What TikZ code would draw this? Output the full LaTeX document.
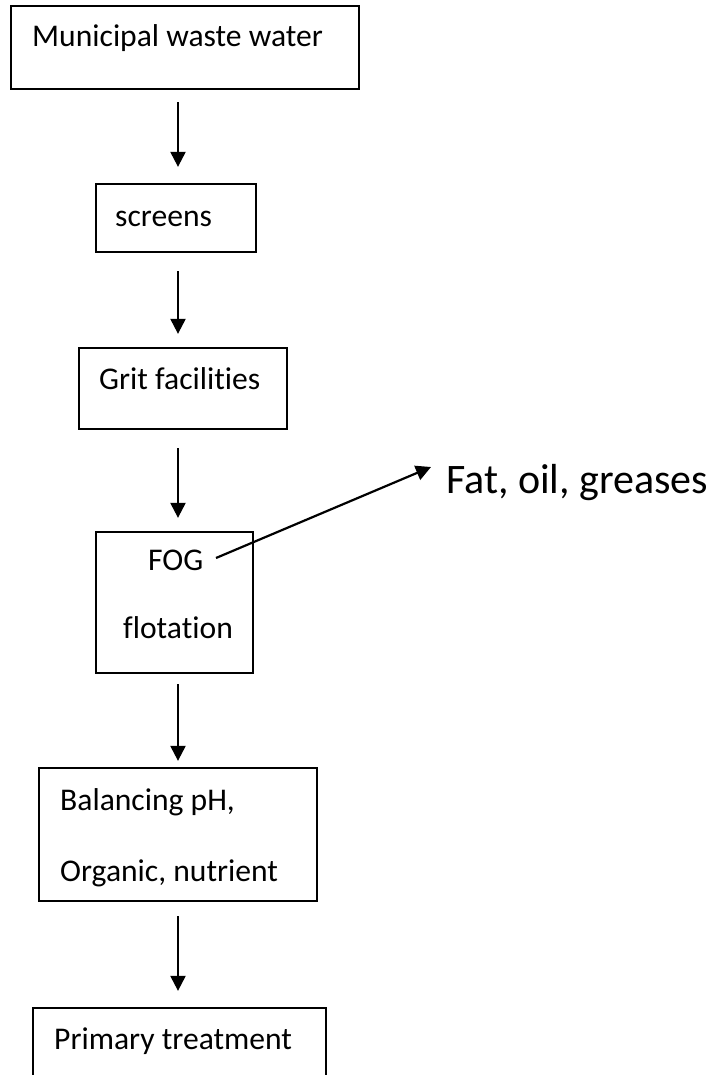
\documentclass[tikz,border=0pt]{standalone}
\usepackage{fontspec}
\setmainfont{Carlito}[Ligatures={NoCommon}]
\usetikzlibrary{arrows.meta}
\tikzset{
  box/.style={draw, line width=2.3pt, rectangle, inner sep=0pt},
  lbl/.style={anchor=base west, inner sep=0pt, font=\fontsize{31.6}{38}\selectfont},
  biglbl/.style={anchor=base west, inner sep=0pt, font=\fontsize{42}{50}\selectfont},
  flow/.style={line width=2.2pt, -{Triangle[width=15pt,length=15pt]}},
}
\begin{document}
\begin{tikzpicture}[x=1pt,y=-1pt]
\useasboundingbox (0,0) rectangle (716,1075);
\clip (0,0) rectangle (716,1075);
\fill[white] (0,0) rectangle (716,1075);

% process boxes
\node[box, minimum width=348pt, minimum height=83pt]  (b1) at (185,47.5) {};
\node[box, minimum width=160pt, minimum height=68pt]  (b2) at (176,218) {};
\node[box, minimum width=208pt, minimum height=81pt]  (b3) at (183,388.5) {};
\node[box, minimum width=157pt, minimum height=141pt] (b4) at (174.5,602.5) {};
\node[box, minimum width=278pt, minimum height=133pt] (b5) at (178,834.5) {};
\node[box, minimum width=293pt, minimum height=92pt]  (b6) at (179.5,1054) {};

% box texts
\node[lbl] (t1)  at (32,47)   {Municipal waste water};
\node[lbl] (t2)  at (115,227) {screens};
\node[lbl] (t3)  at (99,389)  {Grit facilities};
\node[lbl] (t4a) at (148,570) {FOG};
\node[lbl] (t4b) at (123,638) {flotation};
\node[lbl] (t5a) at (60,810)  {Balancing pH,};
\node[lbl] (t5b) at (60,881)  {Organic, nutrient};
\node[lbl] (t6)  at (54,1049) {Primary treatment};

% side output
\node[biglbl] (fat) at (446,493) {Fat, oil, greases};

% main flow line
\coordinate (spine) at (178,0);
\draw[flow, shorten <=12pt, shorten >=16pt] (b1.south -| spine) -- (b2.north -| spine);
\draw[flow, shorten <=18pt, shorten >=13pt] (b2.south -| spine) -- (b3.north -| spine);
\draw[flow, shorten <=18pt, shorten >=13pt] (b3.south -| spine) -- (b4.north -| spine);
\draw[flow, shorten <=10pt, shorten >=6pt]  (b4.south -| spine) -- (b5.north -| spine);
\draw[flow, shorten <=14pt, shorten >=16pt] (b5.south -| spine) -- (b6.north -| spine);

% fat, oil and grease removal
\coordinate (fogout) at (216,558);
\coordinate (fogtip) at (431,467);
\draw[flow] (fogout) -- (fogtip);
\end{tikzpicture}
\end{document}
